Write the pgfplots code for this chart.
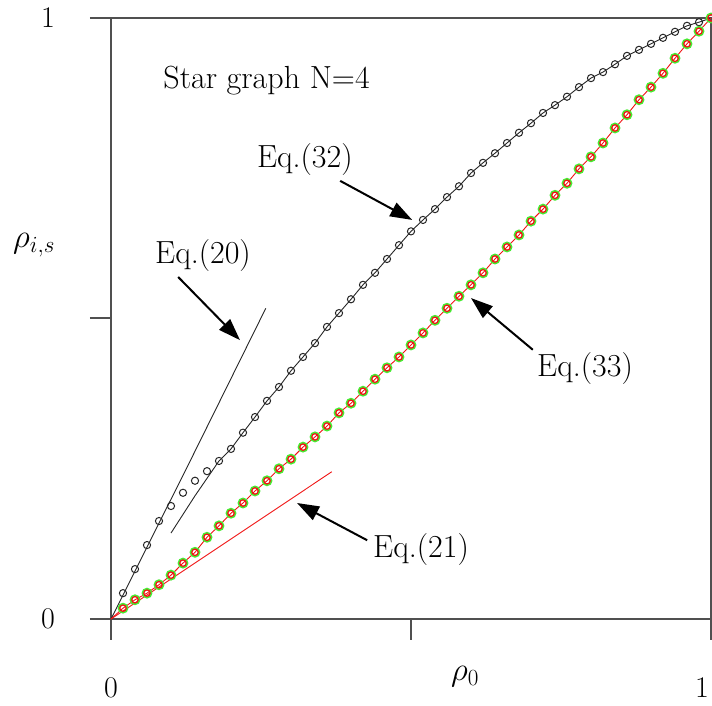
\RequirePackage{fix-cm}
\documentclass[border=0pt]{standalone}
\usepackage{pgfplots}
\pgfplotsset{compat=1.18}
\usetikzlibrary{arrows.meta}
\definecolor{axgray}{RGB}{80,80,80}
\definecolor{mygreen}{RGB}{70,235,50}
\definecolor{myred}{RGB}{240,20,20}
\pgfplotstableread{
x y
0.02 0.043
0.04 0.083
0.06 0.123
0.08 0.163
0.10 0.188
0.12 0.210
0.14 0.230
0.16 0.246
0.18 0.263
0.20 0.283
0.22 0.310
0.24 0.336
0.26 0.363
0.28 0.386
0.30 0.413
0.32 0.436
0.34 0.459
0.36 0.486
0.38 0.509
0.40 0.532
0.42 0.556
0.44 0.576
0.46 0.599
0.48 0.622
0.50 0.645
0.52 0.664
0.54 0.682
0.56 0.702
0.58 0.720
0.60 0.742
0.62 0.759
0.64 0.775
0.66 0.792
0.68 0.809
0.70 0.825
0.72 0.842
0.74 0.855
0.76 0.869
0.78 0.885
0.80 0.900
0.82 0.910
0.84 0.923
0.86 0.937
0.88 0.947
0.90 0.957
0.92 0.967
0.94 0.977
0.96 0.987
0.98 0.993
1.00 1.000
}\simblack
\pgfplotstableread{
x y
0.10 0.143
0.12 0.174
0.14 0.205
0.16 0.234
0.18 0.263
0.20 0.283
0.22 0.310
0.24 0.336
0.26 0.363
0.28 0.386
0.30 0.413
0.32 0.436
0.34 0.459
0.36 0.486
0.38 0.509
0.40 0.532
0.42 0.556
0.44 0.576
0.46 0.599
0.48 0.622
0.50 0.645
0.52 0.664
0.54 0.682
0.56 0.702
0.58 0.720
0.60 0.742
0.62 0.759
0.64 0.775
0.66 0.792
0.68 0.809
0.70 0.825
0.72 0.842
0.74 0.855
0.76 0.869
0.78 0.885
0.80 0.900
0.82 0.910
0.84 0.923
0.86 0.937
0.88 0.947
0.90 0.957
0.92 0.967
0.94 0.977
0.96 0.987
0.98 0.993
1.00 1.000
}\eqthirtytwo
\pgfplotstableread{
x y
0.02 0.018
0.04 0.032
0.06 0.043
0.08 0.057
0.10 0.073
0.12 0.093
0.14 0.111
0.16 0.136
0.18 0.155
0.20 0.176
0.22 0.193
0.24 0.213
0.26 0.230
0.28 0.250
0.30 0.266
0.32 0.286
0.34 0.303
0.36 0.321
0.38 0.343
0.40 0.359
0.42 0.379
0.44 0.399
0.46 0.418
0.48 0.436
0.50 0.456
0.52 0.476
0.54 0.497
0.56 0.517
0.58 0.537
0.60 0.556
0.62 0.576
0.64 0.599
0.66 0.619
0.68 0.639
0.70 0.662
0.72 0.682
0.74 0.705
0.76 0.725
0.78 0.749
0.80 0.769
0.82 0.792
0.84 0.817
0.86 0.839
0.88 0.864
0.90 0.885
0.92 0.908
0.94 0.933
0.96 0.957
0.98 0.978
1.00 1.000
}\simred
\begin{document}
\begin{tikzpicture}
\begin{axis}[
  scale only axis, width=600pt, height=601pt,
  xmin=0, xmax=1, ymin=0, ymax=1,
  axis line style={axgray, line width=2pt},
  xtick={0,0.5,1}, xticklabels={0,,{\kern-9pt 1\kern9pt}},
  ytick={0,0.5,1}, yticklabels={0,,1},
  tick align=outside, major tick length=21pt, tick pos=left,
  every tick/.style={axgray, line width=2pt},
  tick label style={font=\fontsize{30}{35}\selectfont, inner sep=0pt},
  xticklabel style={anchor=center, yshift=-48pt},
  yticklabel style={anchor=center, xshift=-42pt},
  xlabel={$\rho_0$}, ylabel={$\rho_{i,s}$},
  label style={font=\fontsize{33}{38}\selectfont, inner sep=0pt},
  xlabel style={at={(axis description cs:0.59,-0.0965)}, anchor=center},
  ylabel style={rotate=-90, at={(axis description cs:-0.1633,0.622)}, anchor=west},
  clip=false,
]
\coordinate (O) at (axis cs:0,0);
% Eq.(20)
\addplot[black!85, line width=0.9pt] coordinates {(0,0) (0.13,0.259) (0.258,0.517)};
% Eq.(21)
\addplot[myred, line width=0.9pt] coordinates {(0,0) (0.368,0.245)};
% Eq.(32)
\addplot[black!85, line width=0.9pt] table {\eqthirtytwo};
% simulation (black)
\addplot[only marks, mark=o, mark size=3.6pt, black!85, mark options={line width=1pt}] table {\simblack};
% simulation (green / red) and Eq.(33)
\addplot[only marks, mark=o, mark size=4.4pt, mygreen, mark options={line width=2pt}] table {\simred};
\addplot[myred, line width=0.9pt, mark=o, mark size=3.2pt, mark options={line width=1.2pt}] table {\simred};
\addplot[myred, line width=0.9pt] coordinates {(0,0) (0.02,0.018)};
% annotations
\node[anchor=base west, inner sep=0pt, font=\fontsize{32}{38}\selectfont] at (axis cs:0.087,0.8835) {Star graph N=4};
\node[anchor=base west, inner sep=0pt, font=\fontsize{32}{38}\selectfont] at (axis cs:0.243,0.752) {Eq.(32)};
\node[anchor=base west, inner sep=0pt, font=\fontsize{32}{38}\selectfont] at (axis cs:0.0733,0.592) {Eq.(20)};
\node[anchor=base west, inner sep=0pt, font=\fontsize{32}{38}\selectfont] at (axis cs:0.71,0.404) {Eq.(33)};
\node[anchor=base west, inner sep=0pt, font=\fontsize{32}{38}\selectfont] at (axis cs:0.4367,0.103) {Eq.(21)};
\draw[-{Triangle[length=22pt,width=15pt]}, line width=2pt] (axis cs:0.382,0.729) -- (axis cs:0.502,0.664);
\draw[-{Triangle[length=22pt,width=15pt]}, line width=2pt] (axis cs:0.112,0.569) -- (axis cs:0.215,0.464);
\draw[-{Triangle[length=22pt,width=15pt]}, line width=2pt] (axis cs:0.703,0.448) -- (axis cs:0.600,0.534);
\draw[-{Triangle[length=22pt,width=15pt]}, line width=2pt] (axis cs:0.427,0.131) -- (axis cs:0.310,0.193);
\end{axis}
\pgfresetboundingbox
\path[use as bounding box] ([shift={(-111pt,-87pt)}]O) rectangle ([shift={(601pt,619pt)}]O);
\end{tikzpicture}
\end{document}
